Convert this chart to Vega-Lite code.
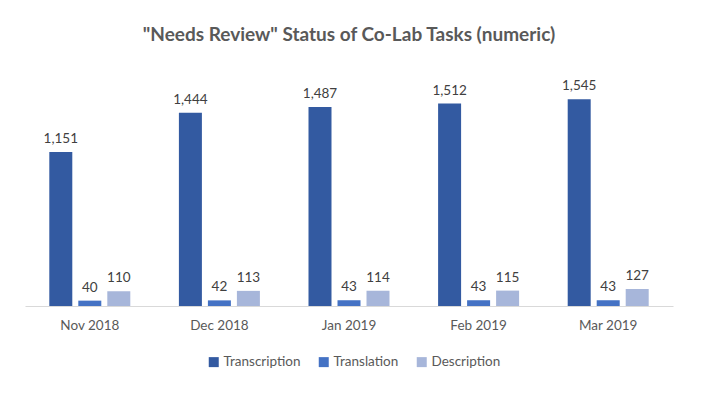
{
  "$schema": "https://vega.github.io/schema/vega-lite/v6.json",
  "width": 648,
  "height": 241,
  "padding": {"left": 25, "top": 26, "right": 28, "bottom": 0},
  "autosize": {"type": "pad"},
  "background": "white",
  "title": {
    "text": "\"Needs Review\" Status of Co-Lab Tasks (numeric)",
    "font": "Lato",
    "fontSize": 19,
    "fontWeight": "bold",
    "color": "#595959",
    "anchor": "middle",
    "offset": 20
  },
  "data": {
    "values": [
      {"month": "Nov 2018", "series": "Transcription", "value": 1151},
      {"month": "Nov 2018", "series": "Translation", "value": 40},
      {"month": "Nov 2018", "series": "Description", "value": 110},
      {"month": "Dec 2018", "series": "Transcription", "value": 1444},
      {"month": "Dec 2018", "series": "Translation", "value": 42},
      {"month": "Dec 2018", "series": "Description", "value": 113},
      {"month": "Jan 2019", "series": "Transcription", "value": 1487},
      {"month": "Jan 2019", "series": "Translation", "value": 43},
      {"month": "Jan 2019", "series": "Description", "value": 114},
      {"month": "Feb 2019", "series": "Transcription", "value": 1512},
      {"month": "Feb 2019", "series": "Translation", "value": 43},
      {"month": "Feb 2019", "series": "Description", "value": 115},
      {"month": "Mar 2019", "series": "Transcription", "value": 1545},
      {"month": "Mar 2019", "series": "Translation", "value": 43},
      {"month": "Mar 2019", "series": "Description", "value": 127}
    ]
  },
  "encoding": {
    "x": {
      "field": "month",
      "type": "nominal",
      "sort": ["Nov 2018", "Dec 2018", "Jan 2019", "Feb 2019", "Mar 2019"],
      "scale": {"paddingInner": 0, "paddingOuter": 0},
      "axis": {
        "title": null,
        "labelAngle": 0,
        "ticks": false,
        "tickSize": 0,
        "labelPadding": 12,
        "labelFont": "Lato",
        "labelFontSize": 13.5,
        "labelColor": "#595959",
        "domainColor": "#d9d9d9",
        "domainWidth": 1
      }
    },
    "xOffset": {
      "field": "series",
      "type": "nominal",
      "sort": ["Transcription", "Translation", "Description"],
      "scale": {"paddingInner": 0.207, "paddingOuter": 0.838}
    },
    "y": {
      "field": "value",
      "type": "quantitative",
      "scale": {"domain": [0, 1800]},
      "axis": null
    }
  },
  "layer": [
    {
      "mark": {"type": "bar"},
      "encoding": {
        "color": {
          "field": "series",
          "type": "nominal",
          "sort": ["Transcription", "Translation", "Description"],
          "scale": {
            "domain": ["Transcription", "Translation", "Description"],
            "range": ["#335aa1", "#4472c4", "#a7b6da"]
          },
          "legend": {
            "title": null,
            "orient": "none",
            "direction": "horizontal",
            "legendX": 182,
            "legendY": 290,
            "symbolType": "square",
            "symbolSize": 100,
            "symbolStrokeWidth": 0,
            "symbolOpacity": 1,
            "labelFont": "Lato",
            "labelFontSize": 13.5,
            "labelColor": "#595959",
            "columnPadding": 16,
            "labelOffset": 3
          }
        }
      }
    },
    {
      "mark": {
        "type": "text",
        "baseline": "bottom",
        "dy": -6,
        "font": "Lato",
        "fontSize": 13.5,
        "color": "#404040"
      },
      "encoding": {
        "text": {"field": "value", "type": "quantitative", "format": ","}
      }
    }
  ],
  "config": {
    "view": {"stroke": null}
  }
}
